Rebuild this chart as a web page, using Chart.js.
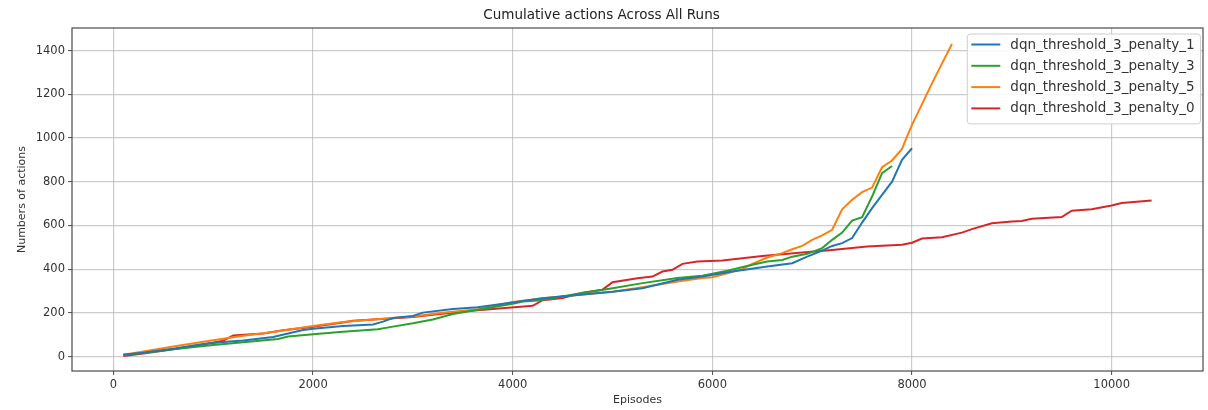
<!DOCTYPE html>
<html>
<head>
<meta charset="utf-8">
<script src="https://cdn.jsdelivr.net/npm/chart.js@4.4.1/dist/chart.umd.min.js"></script>
<style>
html,body{margin:0;padding:0;background:#ffffff;}
#wrap{width:1208px;height:410px;}
</style>
</head>
<body>
<div id="wrap"><canvas id="c" width="1208" height="410"></canvas></div>
<script>
// ---- data ----
const chartTitle = 'Cumulative actions Across All Runs';
const xLabel = 'Episodes';
const yLabel = 'Numbers of actions';

const seriesLabels = ['dqn_threshold_3_penalty_1','dqn_threshold_3_penalty_3','dqn_threshold_3_penalty_5','dqn_threshold_3_penalty_0'];
const seriesColors = ['#1f77b4','#2ca02c','#ff7f0e','#d62728'];

const p1Episodes = [100,300,600,900,1100,1300,1600,1900,2000,2300,2600,2700,2800,3000,3100,3400,3650,4000,4300,4650,5000,5300,5650,5900,6200,6550,6800,6950,7100,7200,7300,7400,7500,7600,7700,7800,7900,8000];
const p1Actions  = [8,18,36,57,67,73,90,122,127,140,147,160,176,186,201,218,226,247,267,282,297,313,351,366,389,412,427,457,485,506,519,542,613,679,740,800,900,953];

const p3Episodes = [100,300,600,1000,1300,1650,1750,2000,2300,2650,2800,3000,3200,3400,3650,4000,4100,4250,4400,4650,5000,5300,5650,5900,6150,6400,6550,6700,6800,6950,7100,7200,7300,7400,7500,7600,7700,7800];
const p3Actions  = [8,16,34,53,66,80,92,102,114,125,137,152,170,195,214,241,252,256,267,287,313,336,359,370,393,420,435,442,457,470,496,534,567,622,638,732,839,872];

const p5Episodes = [100,300,600,900,1100,1300,1600,2000,2300,2600,3000,3300,3650,4000,4300,4650,5000,5300,5650,5900,6000,6150,6300,6400,6550,6700,6800,6900,7000,7100,7200,7300,7400,7500,7600,7700,7800,7900,7950,8000,8100,8200,8300,8400];
const p5Actions  = [8,23,46,68,82,95,112,140,158,170,183,200,217,250,267,282,297,317,343,359,363,381,400,424,453,473,491,506,534,554,580,674,717,752,773,866,897,950,1006,1060,1155,1250,1340,1430];

const p0Episodes = [100,300,600,900,1100,1200,1500,1700,2000,2300,2400,2650,3000,3200,3500,3800,4200,4300,4500,4700,4900,5000,5250,5400,5500,5600,5700,5850,6100,6500,6900,7200,7550,7900,8000,8100,8300,8500,8600,8800,9000,9100,9200,9500,9600,9800,10000,10100,10400];
const p0Actions  = [3,14,33,55,73,96,106,120,136,156,164,171,181,191,206,218,232,258,268,292,306,340,358,366,389,397,424,435,440,460,476,488,503,512,521,540,546,567,583,610,618,620,630,638,667,674,691,702,714];

const xTicks = [0,2000,4000,6000,8000,10000];
const yTicks = [0,200,400,600,800,1000,1200,1400];
const xRange = [-415, 10915];
const yRange = [-66, 1503];

// ---- build datasets ----
const seriesEpisodes = [p1Episodes, p3Episodes, p5Episodes, p0Episodes];
const seriesActions = [p1Actions, p3Actions, p5Actions, p0Actions];
const datasets = seriesLabels.map((lab, i) => ({
  label: lab,
  data: seriesEpisodes[i].map((e, j) => ({x: e, y: seriesActions[i][j]})),
  borderColor: seriesColors[i],
  backgroundColor: seriesColors[i],
  borderWidth: 2,
  pointRadius: 0,
  tension: 0,
  fill: false
}));

const FONT = 'DejaVu Sans';
const TEXT = '#333333';
const GRID = 'rgba(176,176,176,0.65)';
const SPINE = '#4a4a4a';

const framePlugin = {
  id: 'frame',
  afterDatasetsDraw(chart) {
    const {ctx, chartArea: a} = chart;
    ctx.save();
    ctx.strokeStyle = SPINE;
    ctx.lineWidth = 1.2;
    ctx.strokeRect(a.left, a.top, a.right - a.left, a.bottom - a.top);
    ctx.restore();
  }
};

const legendPlugin = {
  id: 'boxLegend',
  afterDraw(chart) {
    const {ctx, chartArea: a} = chart;
    const ds = chart.data.datasets;
    ctx.save();
    ctx.font = '13.5px "' + FONT + '"';
    let tw = 0;
    ds.forEach(d => { tw = Math.max(tw, ctx.measureText(d.label).width); });
    const padL = 4, lineLen = 29, gap = 10, padR = 6, rowH = 21.3, padT = 10;
    const w = padL + lineLen + gap + tw + padR;
    const h = padT * 2 + rowH * (ds.length - 1) + 6;
    const right = a.right - 2.5;
    const left = right - w;
    const top = a.top + 6;
    ctx.beginPath();
    if (ctx.roundRect) ctx.roundRect(left, top, w, h, 3); else ctx.rect(left, top, w, h);
    ctx.fillStyle = 'rgba(255,255,255,0.85)';
    ctx.fill();
    ctx.strokeStyle = '#cfcfcf';
    ctx.lineWidth = 1;
    ctx.stroke();
    ds.forEach((d, i) => {
      const y = top + padT + 0.5 + i * rowH;
      ctx.beginPath();
      ctx.strokeStyle = d.borderColor;
      ctx.lineWidth = 2;
      ctx.moveTo(left + padL, y);
      ctx.lineTo(left + padL + lineLen, y);
      ctx.stroke();
      ctx.fillStyle = TEXT;
      ctx.textBaseline = 'middle';
      ctx.textAlign = 'left';
      ctx.fillText(d.label, left + padL + lineLen + gap, y + 0.5);
    });
    ctx.restore();
  }
};

new Chart(document.getElementById('c'), {
  type: 'line',
  data: {datasets},
  plugins: [framePlugin, legendPlugin],
  options: {
    responsive: false,
    animation: false,
    devicePixelRatio: 1,
    layout: {padding: {left: 0, right: 5, top: 0, bottom: 0}},
    plugins: {
      legend: {display: false},
      tooltip: {enabled: false},
      title: {
        display: true,
        text: chartTitle,
        color: '#222',
        font: {family: FONT, size: 13.5, weight: 'normal'},
        padding: {top: 7, bottom: 4.8}
      }
    },
    scales: {
      x: {
        type: 'linear',
        min: xRange[0],
        max: xRange[1],
        afterBuildTicks: s => { s.ticks = xTicks.map(v => ({value: v})); },
        afterFit: s => { s.height = 39; },
        ticks: {color: TEXT, font: {family: FONT, size: 11.5}, padding: 3, maxRotation: 0, callback: v => String(v)},
        grid: {color: GRID, lineWidth: 1.2, tickColor: SPINE, tickLength: 4, tickWidth: 1},
        border: {display: false},
        title: {display: true, text: xLabel, color: TEXT, font: {family: FONT, size: 11}, padding: {top: 0, bottom: 3.4}}
      },
      y: {
        type: 'linear',
        min: yRange[0],
        max: yRange[1],
        afterBuildTicks: s => { s.ticks = yTicks.map(v => ({value: v})); },
        afterFit: s => { s.width = 72; },
        ticks: {color: TEXT, font: {family: FONT, size: 11.5}, padding: 3, callback: v => String(v)},
        grid: {color: GRID, lineWidth: 1.2, tickColor: SPINE, tickLength: 4, tickWidth: 1},
        border: {display: false},
        title: {display: true, text: yLabel, color: TEXT, font: {family: FONT, size: 11}, padding: {top: 15.4, bottom: 0}}
      }
    }
  }
});
</script>
</body>
</html>
